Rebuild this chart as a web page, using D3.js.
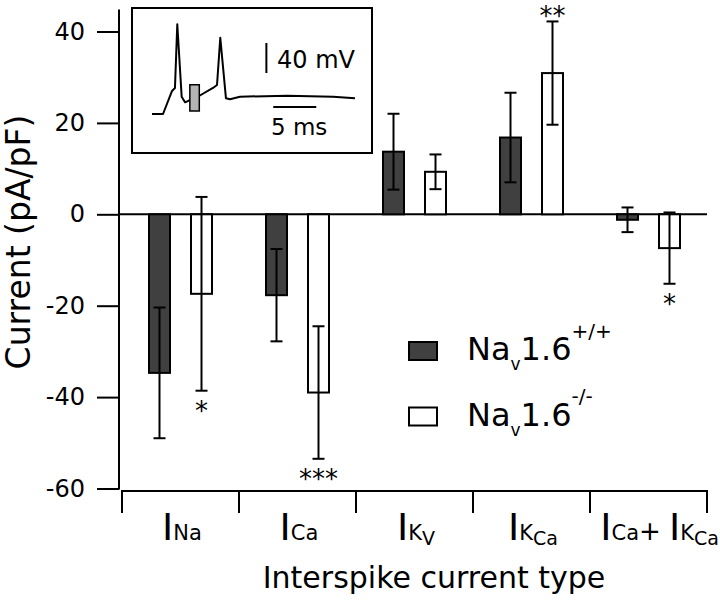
<!DOCTYPE html>
<html><head><meta charset="utf-8">
<script src="https://cdn.jsdelivr.net/npm/d3@7/dist/d3.min.js"></script>
<style>
body{margin:0;background:#fff}
svg{display:block;background:#fff}
text{font-family:"DejaVu Sans",sans-serif;fill:#000}
</style>
</head><body>
<svg id="chart" width="720" height="600"></svg>
<script>
// ---- data ----
const categories = ["I_Na", "I_Ca", "I_KV", "I_KCa", "I_Ca+I_KCa"];
const groups = ["wt", "ko"];
const wtMean = [-34.7, -17.7, 13.7, 16.8, -1.2];
const wtErr  = [14.3, 10.1, 8.3, 9.8, 2.7];
const koMean = [-17.4, -39.0, 9.3, 30.9, -7.4];
const koErr  = [21.2, 14.5, 3.8, 11.3, 7.8];
const wtSig  = ["", "", "", "", ""];
const koSig  = ["*", "***", "", "**", "*"];
const yTicks = [-60, -40, -20, 0, 20, 40];
// tick label pieces: [text, level] level 0=main,1=sub,2=sub-sub,3=plus
const tickLabelParts = [
  [["I",0],["Na",1]],
  [["I",0],["Ca",1]],
  [["I",0],["K",1],["V",2]],
  [["I",0],["K",1],["Ca",2]],
  [["I",0],["Ca",1],["+ ",3],["I",0],["K",1],["Ca",2]]
];
const legendParts = [
  [["Na",0],["v",1],["1.6",0],["+/+",2]],
  [["Na",0],["v",1],["1.6",0],["-/-",2]]
];
const yTitle = "Current (pA/pF)";
const xTitle = "Interspike current type";
// inset trace: time (ms), voltage (mV)
const insetT = [0, 1.28, 2.33, 2.67, 2.94, 3.45, 3.84, 5.47, 7.09, 7.56, 7.94, 8.6, 9.07, 10.23, 15.7, 21.05, 23.6];
const insetV = [-70, -70, -39.3, -35.3, 49.6, -46.9, -54.4, -46, -35.3, -31.3, 31.7, -49.1, -50.4, -46.9, -45.6, -46.9, -49.1];
const insetWindowT = [4.4, 5.5];
const insetWindowV = [-66, -31];
const scaleBarV = 40, scaleBarT = 5;
const scaleBarLabels = ["40 mV", "5 ms"];

// ---- layout ----
const svg = d3.select("#chart");
const ink = "#000";
const darkFill = "#404040";

const y = d3.scaleLinear().domain([-60, 40]).range([488.5, 31.5]);
const x = d3.scaleBand().domain(categories).range([122, 707]).padding(0);
const xg = d3.scaleBand().domain(groups).range([-31.5, 31.5]).paddingInner(0.5).paddingOuter(0);
const yAxisX = 119, xAxisY = 491;

// y axis line
svg.append("line").attr("x1", yAxisX).attr("x2", yAxisX)
  .attr("y1", y(-60) + 1).attr("y2", y(44.8))
  .attr("stroke", ink).attr("stroke-width", 2);
// y ticks & labels
const yAxis = d3.axisLeft(y).tickValues(yTicks).tickFormat(d => String(d))
  .tickSize(22).tickSizeOuter(0).tickPadding(12);
const ya = svg.append("g").attr("transform", `translate(${yAxisX},0)`).call(yAxis);
ya.select(".domain").remove();
ya.selectAll(".tick line").attr("stroke", ink).attr("stroke-width", 2);
ya.selectAll(".tick text").attr("font-size", 24).attr("font-family", "DejaVu Sans").attr("fill", ink);

// zero line
svg.append("line").attr("x1", yAxisX).attr("x2", x.range()[1])
  .attr("y1", y(0)).attr("y2", y(0)).attr("stroke", ink).attr("stroke-width", 2);

// x axis
svg.append("line").attr("x1", x.range()[0]).attr("x2", x.range()[1])
  .attr("y1", xAxisY).attr("y2", xAxisY).attr("stroke", ink).attr("stroke-width", 2);
const bounds = categories.map(c => x(c)).concat([x.range()[1]]);
svg.selectAll(".xtick").data(bounds).enter().append("line")
  .attr("x1", d => d).attr("x2", d => d)
  .attr("y1", xAxisY - 1).attr("y2", xAxisY + 22)
  .attr("stroke", ink).attr("stroke-width", 2);

// x tick labels
const lvlSize = [38, 21, 19, 26];
const lvlShift = [0, 0, 5, 0];
categories.forEach((c, i) => {
  const cx = x(c) + x.bandwidth() / 2 + 1.5;
  const t = svg.append("text").attr("x", cx).attr("y", 540).attr("text-anchor", "middle");
  let cur = 0;
  tickLabelParts[i].forEach(([s, l]) => {
    const dy = lvlShift[l] - cur; cur = lvlShift[l];
    t.append("tspan").attr("font-size", lvlSize[l]).attr("dy", dy).style("white-space", "pre").text(s);
  });
  const w = t.node().getComputedTextLength();
  if (cx + w / 2 > x.range()[1]) t.attr("x", 719 - w / 2);
});

// titles
svg.append("text").attr("x", 434).attr("y", 588).attr("text-anchor", "middle")
  .attr("font-size", 30).text(xTitle);
svg.append("text").attr("transform", "translate(30,242) rotate(-90)")
  .attr("text-anchor", "middle").attr("font-size", 33).text(yTitle);

// bars
const series = [
  {g: "wt", mean: wtMean, err: wtErr, sig: wtSig, fill: darkFill},
  {g: "ko", mean: koMean, err: koErr, sig: koSig, fill: "#fff"}
];
series.forEach(s => {
  categories.forEach((c, i) => {
    const bx = x(c) + x.bandwidth() / 2 + xg(s.g);
    const bw = xg.bandwidth();
    const m = s.mean[i];
    svg.append("rect").attr("x", bx).attr("width", bw)
      .attr("y", Math.min(y(m), y(0))).attr("height", Math.abs(y(m) - y(0)))
      .attr("fill", s.fill).attr("stroke", ink).attr("stroke-width", 2);
  });
});
series.forEach(s => {
  categories.forEach((c, i) => {
    const cx = x(c) + x.bandwidth() / 2 + xg(s.g) + xg.bandwidth() / 2;
    const m = s.mean[i], e = s.err[i];
    const lo = y(m - e), hi = y(m + e);
    const g = svg.append("g").attr("stroke", ink).attr("stroke-width", 2);
    g.append("line").attr("x1", cx).attr("x2", cx).attr("y1", lo).attr("y2", hi);
    g.append("line").attr("x1", cx - 6).attr("x2", cx + 6).attr("y1", lo).attr("y2", lo);
    g.append("line").attr("x1", cx - 6).attr("x2", cx + 6).attr("y1", hi).attr("y2", hi);
    if (s.sig[i]) {
      const fs = 26;
      const base = m < 0 ? lo + 14 + 15 : Math.max(hi - 14 + 15, fs * 0.95);
      svg.append("text").attr("x", cx).attr("y", base).attr("text-anchor", "middle")
        .attr("font-size", fs).text(s.sig[i]);
    }
  });
});

// legend
const legFill = [darkFill, "#fff"];
const legSize = [32, 17, 20];
const legShift = [0, 10, -22.5];
legendParts.forEach((parts, i) => {
  const ry = 342 + i * 65.5;
  svg.append("rect").attr("x", 409).attr("y", ry).attr("width", 28).attr("height", 18)
    .attr("fill", legFill[i]).attr("stroke", ink).attr("stroke-width", 2);
  const t = svg.append("text").attr("x", 467).attr("y", ry + 18);
  let cur = 0;
  parts.forEach(([s, l]) => {
    const dy = legShift[l] - cur; cur = legShift[l];
    t.append("tspan").attr("font-size", legSize[l]).attr("dy", dy).text(s);
  });
});

// inset
svg.append("rect").attr("x", 132).attr("y", 8).attr("width", 240).attr("height", 145)
  .attr("fill", "#fff").attr("stroke", ink).attr("stroke-width", 2);
const xi = d3.scaleLinear().domain([0, 10]).range([152, 238]);
const yi = d3.scaleLinear().domain([-70, -30]).range([114, 84]);
svg.append("path").datum(insetT.map((t, i) => [t, insetV[i]]))
  .attr("d", d3.line().x(d => xi(d[0])).y(d => yi(d[1])))
  .attr("fill", "none").attr("stroke", ink).attr("stroke-width", 2).attr("stroke-linejoin", "round");
svg.append("rect").attr("x", xi(insetWindowT[0])).attr("width", xi(insetWindowT[1]) - xi(insetWindowT[0]))
  .attr("y", yi(insetWindowV[1])).attr("height", yi(insetWindowV[0]) - yi(insetWindowV[1]))
  .attr("fill", "#b4b4b4").attr("stroke", ink).attr("stroke-width", 1.5);
// scale bars
const vbT = 13.3, vbTop = 24.7;
svg.append("line").attr("x1", xi(vbT)).attr("x2", xi(vbT))
  .attr("y1", yi(vbTop)).attr("y2", yi(vbTop - scaleBarV))
  .attr("stroke", ink).attr("stroke-width", 2);
const hbT = 14.1, hbV = -60.7;
svg.append("line").attr("x1", xi(hbT)).attr("x2", xi(hbT + scaleBarT))
  .attr("y1", yi(hbV)).attr("y2", yi(hbV)).attr("stroke", ink).attr("stroke-width", 2);
svg.append("text").attr("x", 277).attr("y", 68).attr("font-size", 24).text(scaleBarLabels[0]);
svg.append("text").attr("x", 271).attr("y", 135).attr("font-size", 23).text(scaleBarLabels[1]);
</script>
</body></html>
